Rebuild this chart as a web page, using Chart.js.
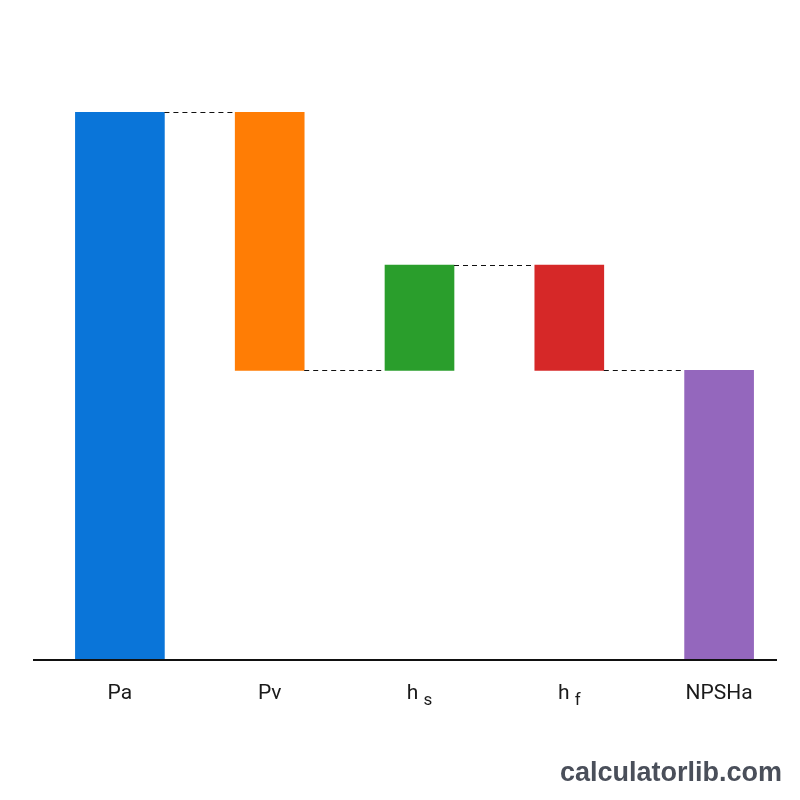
<!DOCTYPE html>
<html>
<head>
<meta charset="utf-8">
<script src="https://cdn.jsdelivr.net/npm/chart.js@4/dist/chart.umd.min.js"></script>
<style>
html,body{margin:0;padding:0;background:#fff;}
#wrap{width:800px;height:800px;position:relative;}
</style>
</head>
<body>
<div id="wrap"><canvas id="c" width="800" height="800"></canvas></div>
<script>
// Data
const categories = ["Pa", "Pv", "h", "h", "NPSHa"];
const subscripts = ["", "", "s", "f", ""];
const steps = [10.4, -4.9, 2.0, -2.0]; // signed contributions (Pa, Pv, hs, hf)
const colors = ["#0a75d9", "#ff7d05", "#2a9e2c", "#d62828", "#9467bd"];

// Build floating ranges from running totals
const ranges = [];
const totals = [];
let run = 0;
steps.forEach(v => {
  const start = run;
  run += v;
  ranges.push([Math.min(start, run), Math.max(start, run)]);
  totals.push(run);
});
ranges.push([0, run]); // NPSHa total

const firstData = ranges.map((r, i) => i === 0 ? r : null);
const restData = ranges.map((r, i) => i === 0 ? null : r);

const FONT = 'Roboto, "Liberation Sans", sans-serif';

const extras = {
  id: 'extras',
  afterDatasetsDraw(chart) {
    const ctx = chart.ctx;
    const x = chart.scales.x, y = chart.scales.y;
    // connectors
    ctx.save();
    ctx.strokeStyle = '#111';
    ctx.lineWidth = 1.2;
    ctx.setLineDash([5, 4]);
    for (let i = 0; i < totals.length; i++) {
      const metaA = chart.getDatasetMeta(i === 0 ? 0 : 1).data[i];
      const metaB = chart.getDatasetMeta(1).data[i + 1];
      const yy = Math.round(y.getPixelForValue(totals[i])) + 0.5;
      ctx.beginPath();
      ctx.moveTo(metaA.x + metaA.width / 2, yy);
      ctx.lineTo(metaB.x - metaB.width / 2, yy);
      ctx.stroke();
    }
    ctx.restore();
    // baseline
    ctx.save();
    const by = y.getPixelForValue(0);
    ctx.strokeStyle = '#111';
    ctx.lineWidth = 2;
    ctx.beginPath();
    ctx.moveTo(33, by);
    ctx.lineTo(777, by);
    ctx.stroke();
    ctx.restore();
    // labels
    ctx.save();
    ctx.fillStyle = '#1a1a1a';
    ctx.textBaseline = 'alphabetic';
    categories.forEach((c, i) => {
      const cx = x.getPixelForValue(i);
      ctx.font = '21px ' + FONT;
      const w1 = ctx.measureText(c).width;
      let w2 = 0;
      if (subscripts[i]) {
        ctx.font = '17px ' + FONT;
        w2 = ctx.measureText(subscripts[i]).width + 5;
      }
      const start = cx - (w1 + w2) / 2;
      ctx.font = '21px ' + FONT;
      ctx.textAlign = 'left';
      ctx.fillText(c, start, by + 39);
      if (subscripts[i]) {
        ctx.font = '17px ' + FONT;
        ctx.fillText(subscripts[i], start + w1 + 5, by + 45);
      }
    });
    // watermark
    ctx.font = 'bold 27px "Liberation Sans", Arial, sans-serif';
    ctx.fillStyle = '#4a4f5a';
    ctx.textAlign = 'right';
    ctx.fillText('calculatorlib.com', 782, 781);
    ctx.restore();
  }
};

new Chart(document.getElementById('c'), {
  type: 'bar',
  data: {
    labels: categories.map((c, i) => c + subscripts[i]),
    datasets: [
      { data: firstData, backgroundColor: colors, barThickness: 89, grouped: false, borderSkipped: false },
      { data: restData, backgroundColor: colors, barThickness: 69, grouped: false, borderSkipped: false }
    ]
  },
  options: {
    responsive: false,
    animation: false,
    layout: { padding: { top: 28, bottom: 140, left: 45, right: 6 } },
    plugins: { legend: { display: false }, tooltip: { enabled: false } },
    scales: {
      x: { display: false, grid: { display: false } },
      y: { display: false, min: 0, max: 12 }
    }
  },
  plugins: [extras]
});
</script>
</body>
</html>
